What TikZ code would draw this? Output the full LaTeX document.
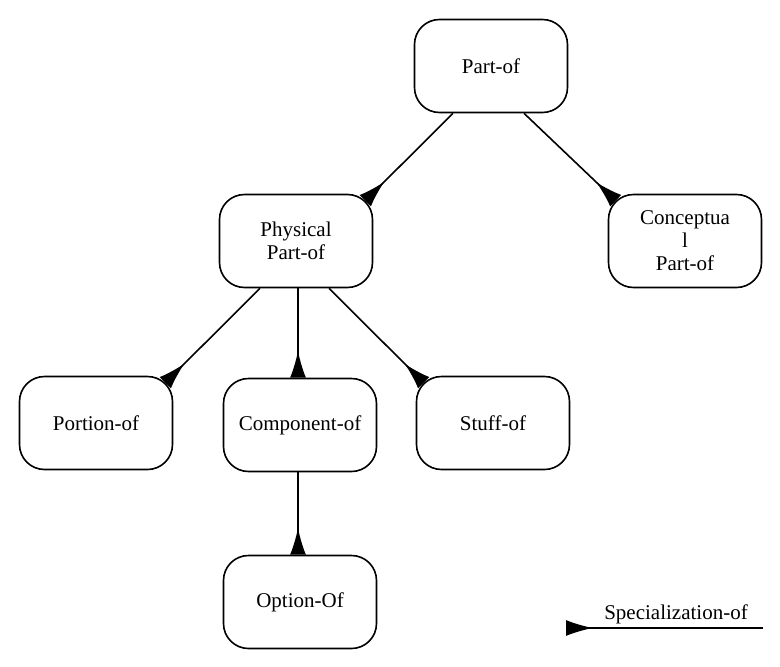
\documentclass[tikz,border=0pt]{standalone}
\usepackage{fontspec}
\setmainfont{Liberation Serif}
\usetikzlibrary{arrows.meta,calc}
\tikzset{
  box/.style={draw=black, line width=1.6pt, rounded corners=25pt, minimum width=153pt, minimum height=93pt, align=center, inner sep=0pt, font=\fontsize{21}{23}\selectfont},
  spec/.style={line width=1.6pt, -{Latex[reversed,length=27pt,width=16pt]}},
}
\begin{document}
\begin{tikzpicture}[x=1pt,y=-1pt]
\useasboundingbox (0,0) rectangle (780,667);
\node[box] (partof) at (491,66) {Part-of};
\node[box] (phys) at (296,241) {Physical\\Part-of};
\node[box] (conc) at (685,241) {Conceptua\\l\\Part-of};
\node[box] (port) at (96,423) {Portion-of};
\node[box] (comp) at (300,425) {Component-of};
\node[box] (stuff) at (493,423) {Stuff-of};
\node[box] (opt) at (300,602) {Option-Of};
\coordinate (vline) at (298,0);
\draw[spec] ($(partof.south)+(-38,0)$) -- ($(phys.north east)+(-8,7)$);
\draw[spec] ($(partof.south)+(33,0)$) -- ($(conc.north west)+(8,7)$);
\draw[spec] ($(phys.south)+(-36,0)$) -- ($(port.north east)+(-8,7)$);
\draw[spec] ($(phys.south)+(33,0)$) -- ($(stuff.north west)+(8,7)$);
\draw[spec] (phys.south -| vline) -- (comp.north -| vline);
\draw[spec] (comp.south -| vline) -- (opt.north -| vline);
\coordinate (legR) at (763,628);
\coordinate (legL) at (566,628);
\draw[spec] (legR) -- (legL);
\node[anchor=base, font=\fontsize{21}{23}\selectfont, inner sep=0pt] (legtxt) at (676,619) {Specialization-of};
\end{tikzpicture}
\end{document}
